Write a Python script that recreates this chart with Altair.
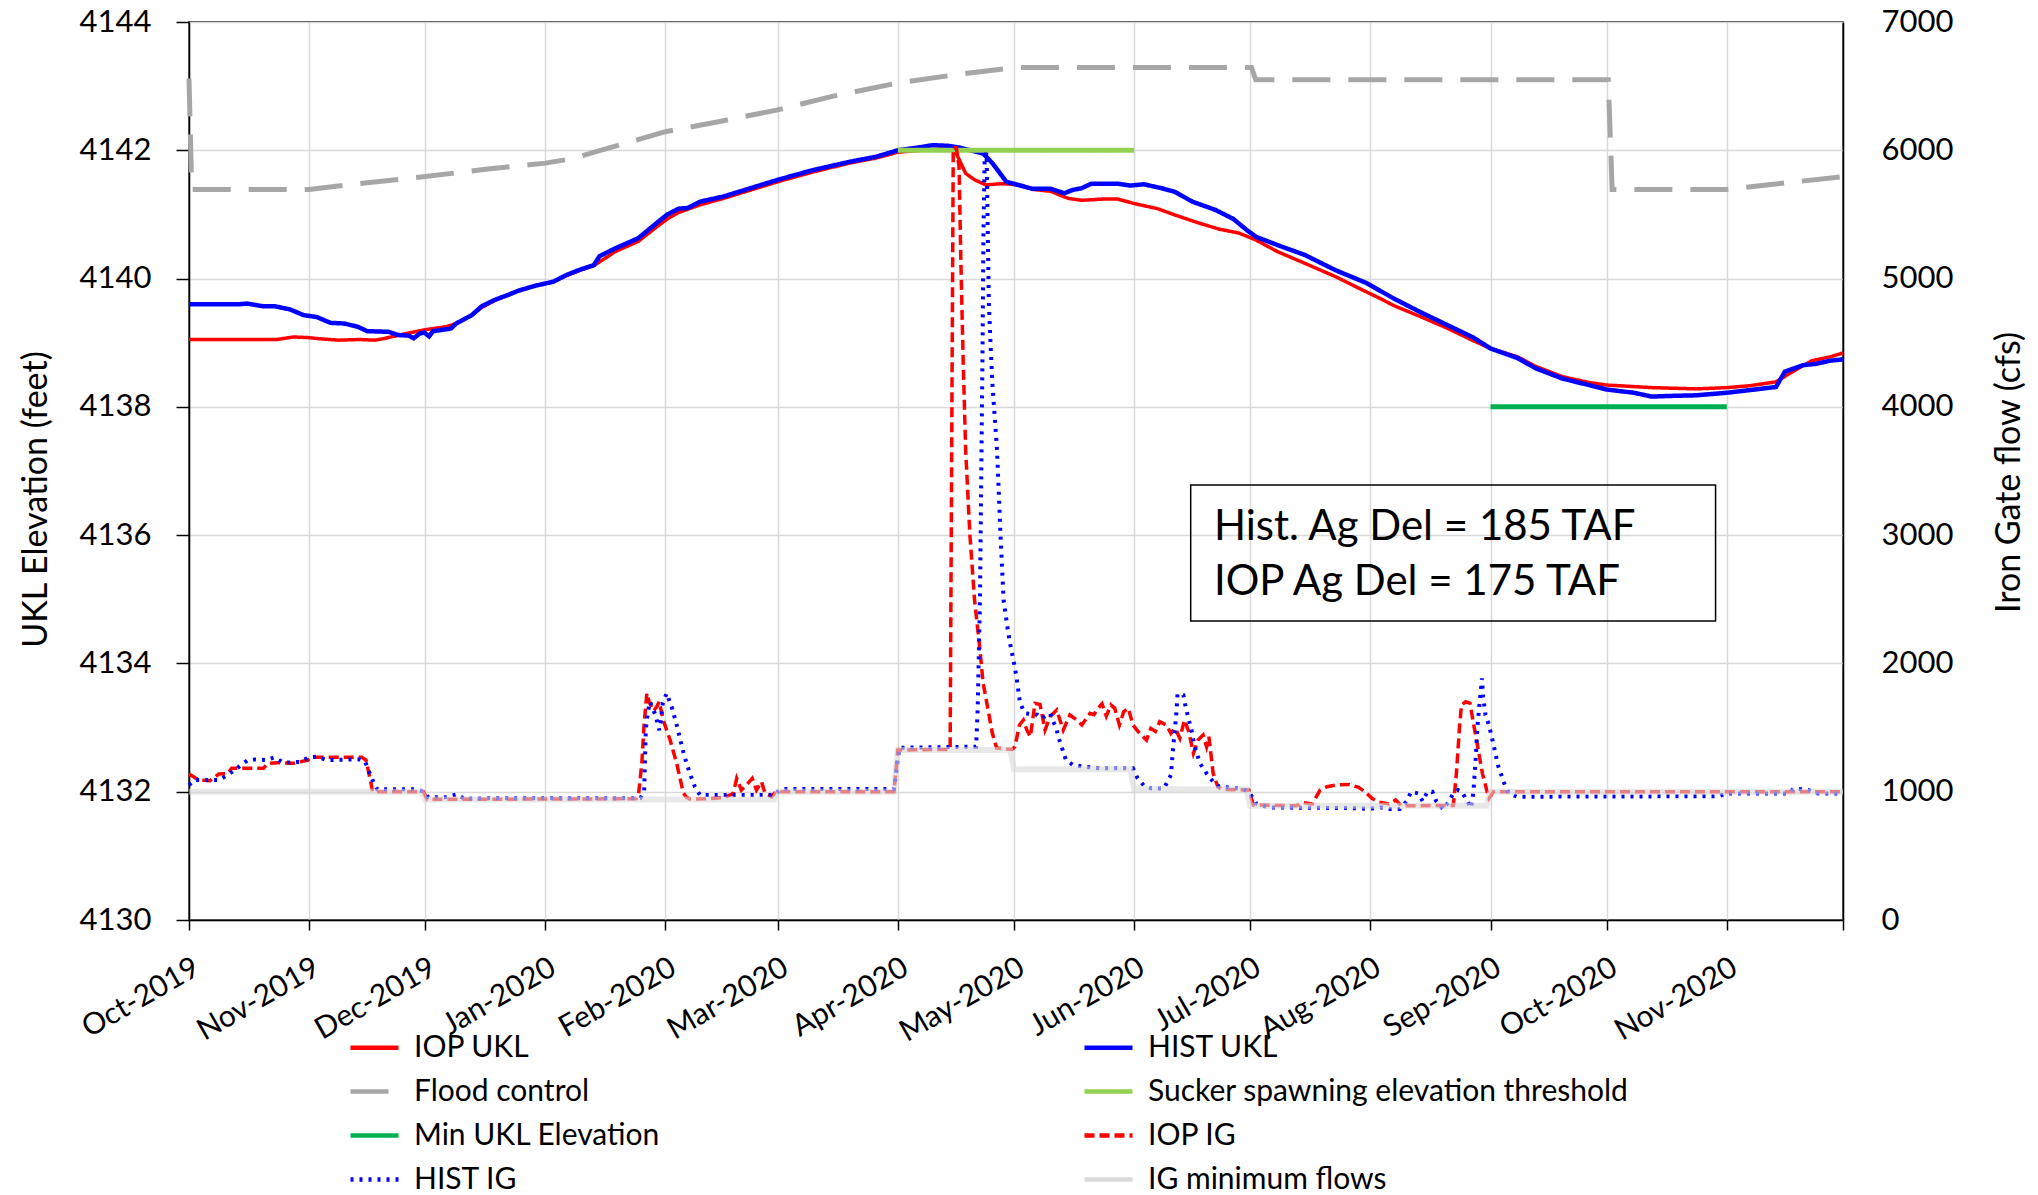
import altair as alt
import pandas as pd

# x values are days after 1 Oct 2019
START = pd.Timestamp("2019-10-01")

iop_ukl_day = [0, 22.7, 27, 30.7, 34, 38.7, 44, 48, 50, 55, 60.7, 66.4, 69, 73, 75.6, 79, 82.6, 85, 89.5, 94,
               97.6, 101, 104.5, 107, 110, 116, 120.6, 123.5, 126.4, 132, 138, 145, 152, 161, 170.5, 177.4, 183,
               189, 194, 197.5, 198.8, 200.5, 202.8, 205.7, 210, 214, 218, 222.4, 227, 230.5, 236, 239.7, 244,
               250, 254.6, 260.5, 266, 271, 275.5, 281, 288, 296, 303, 307.5, 311, 317.8, 324.7, 331.6, 336,
               343, 347.7, 354.6, 361.4, 366, 377.6, 389, 397, 403, 409.7, 414.6, 419, 423.7, 427]
iop_ukl_elev = [4139.05, 4139.05, 4139.09, 4139.08, 4139.06, 4139.04, 4139.05, 4139.04, 4139.06, 4139.13,
                4139.20, 4139.25, 4139.30, 4139.43, 4139.55, 4139.66, 4139.75, 4139.81, 4139.89, 4139.95,
                4140.05, 4140.13, 4140.20, 4140.30, 4140.42, 4140.58, 4140.80, 4140.93, 4141.03, 4141.15,
                4141.25, 4141.38, 4141.51, 4141.66, 4141.80, 4141.88, 4141.97, 4142.00, 4142.02, 4142.02,
                4141.86, 4141.64, 4141.54, 4141.46, 4141.48, 4141.46, 4141.39, 4141.36, 4141.25, 4141.22,
                4141.24, 4141.24, 4141.17, 4141.09, 4140.99, 4140.87, 4140.77, 4140.71, 4140.60, 4140.42,
                4140.24, 4140.03, 4139.82, 4139.69, 4139.58, 4139.41, 4139.23, 4139.03, 4138.91, 4138.78,
                4138.63, 4138.47, 4138.38, 4138.34, 4138.30, 4138.28, 4138.30, 4138.33, 4138.39, 4138.57,
                4138.72, 4138.78, 4138.84]

hist_ukl_day = [0, 13, 15, 19, 22, 26, 29.6, 33, 36.5, 40, 43.5, 46, 51.5, 54, 56.7, 58, 59.5, 60.7, 62, 63,
                67.6, 69, 73, 75.6, 79, 82.6, 85, 89.5, 94, 97.6, 101, 104.5, 106, 110, 116, 120.6, 123.5,
                126.4, 128.7, 132, 138, 145, 152, 161, 170.5, 177.4, 183, 189, 192, 196, 199, 205, 207.4, 211,
                214, 217.8, 222.4, 226, 228, 230.5, 233, 239.7, 243, 246.5, 251, 254.6, 259, 265, 269.6, 273,
                275.5, 282, 288, 296, 304, 311, 317.8, 324.7, 331.6, 336, 343, 347.7, 354.6, 361.4, 366, 373,
                377.6, 382, 389, 397, 402.8, 409.7, 412, 416.7, 420, 423.7, 427]
hist_ukl_elev = [4139.60, 4139.60, 4139.61, 4139.57, 4139.57, 4139.52, 4139.43, 4139.40, 4139.31, 4139.30,
                 4139.25, 4139.18, 4139.17, 4139.12, 4139.11, 4139.07, 4139.14, 4139.16, 4139.10, 4139.18,
                 4139.22, 4139.30, 4139.43, 4139.57, 4139.67, 4139.75, 4139.81, 4139.89, 4139.95, 4140.06,
                 4140.14, 4140.21, 4140.35, 4140.47, 4140.63, 4140.86, 4141.00, 4141.09, 4141.10, 4141.20,
                 4141.28, 4141.41, 4141.54, 4141.69, 4141.82, 4141.90, 4142.00, 4142.05, 4142.08, 4142.07,
                 4142.04, 4141.95, 4141.80, 4141.51, 4141.46, 4141.40, 4141.40, 4141.33, 4141.38, 4141.41,
                 4141.48, 4141.48, 4141.45, 4141.47, 4141.41, 4141.35, 4141.20, 4141.07, 4140.93, 4140.76,
                 4140.65, 4140.50, 4140.37, 4140.13, 4139.93, 4139.69, 4139.48, 4139.28, 4139.08, 4138.91,
                 4138.76, 4138.60, 4138.44, 4138.34, 4138.27, 4138.22, 4138.16, 4138.17, 4138.18, 4138.22,
                 4138.26, 4138.31, 4138.55, 4138.65, 4138.67, 4138.72, 4138.74]

flood_day = [0, 0.7, 31, 41, 61, 76, 92, 99, 106.9, 123, 137, 152, 166, 183, 197, 213, 274.3, 275.4, 366.4,
             367.4, 397, 412, 427]
flood_elev = [4143.12, 4141.39, 4141.39, 4141.46, 4141.59, 4141.70, 4141.80, 4141.87, 4142.01, 4142.29,
              4142.45, 4142.63, 4142.84, 4143.05, 4143.17, 4143.29, 4143.29, 4143.10, 4143.10, 4141.39,
              4141.39, 4141.49, 4141.59]

sucker_day = [183, 244]
sucker_elev = [4142.0, 4142.0]

min_ukl_day = [336, 397]
min_ukl_elev = [4138.0, 4138.0]

iop_ig_day = [0, 2.5, 5.4, 7.7, 10, 11, 19.2, 20.4, 23, 27, 30.7, 31.5, 44.6, 45.7, 46.9, 47.4, 60.5, 61.5,
              115.4, 116, 116.9, 117.5, 118.2, 118.8, 119.9, 120.7, 121.4, 122.4, 124.2, 125.9, 127.6, 128.3,
              129.2, 133.7, 138.3, 140.5, 141.4, 142.6, 143.9, 145.4, 146.5, 147.8, 148.7, 150.4, 151.5,
              182, 183, 196.5, 197.3, 198.1, 198.8, 199.3, 199.9, 200.5, 201.6, 202.8, 204.2, 205, 206.3,
              207.4, 208.5, 212.5, 213.2, 214.4, 215.4, 216.3, 217.2, 218.4, 219.7, 221, 222.3, 224, 225.7,
              227.4, 229.2, 230.5, 232.6, 233.6, 234.7, 235.7, 236.8, 238, 239, 240.2, 241.3, 242.5, 243.7,
              245.4, 247.2, 248.3, 249.5, 250.6, 252.3, 253.5, 254.6, 255.8, 257, 258.1, 259.3, 260.5,
              261.8, 262.7, 263.3, 264.4, 265.6, 266.5, 273.6, 274.8, 285.8, 287.5, 290, 292, 293.8, 296,
              299.6, 301.9, 303.6, 305.4, 307, 309.8, 311.5, 313, 326.4, 327.2, 328, 328.5, 329.6, 330.7,
              331.6, 332.7, 333.9, 334.8, 335.6, 336.8, 427]
iop_ig_flow = [1138, 1091, 1086, 1138, 1140, 1182, 1182, 1221, 1226, 1221, 1247, 1268, 1268, 1247, 1078, 1000,
               1000, 940, 945, 966, 1221, 1530, 1767, 1700, 1630, 1660, 1702, 1560, 1403, 1221, 992, 961,
               943, 945, 955, 985, 1104, 1013, 1052, 1104, 1013, 1078, 987, 961, 1000,
               1000, 1325, 1330, 6020, 6020, 5872, 5092, 4313, 3664, 3000, 2494, 2105, 1850, 1637,
               1455, 1340, 1330, 1351, 1520, 1559, 1481, 1429, 1689, 1680, 1481, 1585, 1637, 1481,
               1598, 1559, 1520, 1611, 1600, 1650, 1686, 1590, 1676, 1650, 1520, 1624, 1650, 1520,
               1455, 1403, 1494, 1470, 1546, 1520, 1455, 1494, 1416, 1559, 1468, 1299, 1403,
               1442, 1351, 1429, 1143, 1039, 1019, 1013, 897, 890, 915, 905, 1013, 1039, 1052,
               1057, 1034, 1000, 948, 920, 904, 935, 890, 893, 1143, 1507, 1676, 1702, 1690,
               1533, 1351, 1143, 1039, 948, 1000, 1000]

hist_ig_day = [0, 1.5, 7.7, 10, 15, 17, 20, 22, 24.5, 28.5, 31, 33, 35.5, 44, 45.5, 46.3, 47.4, 48.6, 58.4,
               60.7, 61.8, 66, 69.3, 71, 80, 90, 100, 110, 116.5, 117.2, 117.5, 117.9, 118.1, 118.5, 119,
               120.4, 121.4, 121.8, 122.3, 123.3, 124.6, 125.9, 127.8, 129.3, 130.6, 131.9, 151, 152, 152.8,
               182, 183, 183.5, 203.2, 203.6, 204.2, 204.6, 204.9, 205.1, 205.4, 205.9, 206.2, 206.5, 207,
               207.4, 208, 208.6, 209.5, 210.3, 211.3, 212, 213, 213.6, 214.5, 215.3, 216, 219, 220.1, 222.3,
               224, 224.7, 225.7, 226.4, 228.2, 232.6, 235, 243.7, 244.9, 246.6, 248.5, 251.7, 253.5, 253.8,
               254.4, 254.9, 255.2, 256, 256.7, 257.2, 257.9, 259, 259.4, 261, 262.7, 264.4, 266, 271.5,
               273.6, 275.5, 278.8, 290, 300, 305, 307.5, 310, 312.6, 314.4, 315.5, 317.3, 318.5, 319.7, 321,
               322, 323.8, 325.3, 326.4, 327.6, 328.6, 329.8, 331, 331.6, 332.2, 332.6, 333, 333.3, 333.6,
               333.8, 334.1, 334.7, 335.6, 336.8, 337.9, 338.8, 339.7, 340.7, 343, 395, 397, 413, 414.3, 416,
               418, 420.6, 427]
hist_ig_flow = [1052, 1091, 1091, 1130, 1242, 1252, 1247, 1268, 1226, 1232, 1268, 1273, 1247, 1252, 1232, 1169,
                1091, 1019, 1019, 1000, 956, 956, 980, 945, 950, 948, 950, 948, 950, 987, 1000, 1455, 1546,
                1624, 1702, 1600, 1480, 1550, 1689, 1767, 1663, 1520, 1286, 1143, 1039, 974, 974, 1000, 1021,
                1021, 1260, 1343, 1351, 1640, 2500, 3664, 4573, 5352, 5923, 5980, 5400, 4800, 4440,
                4184, 3924, 3664, 3000, 2494, 2280, 2150, 2000, 1900, 1700, 1640, 1611, 1600, 1572, 1611,
                1481, 1403, 1312, 1247, 1208, 1190, 1182, 1182, 1104, 1045, 1026, 1026, 1130, 1247,
                1455, 1611, 1762, 1762, 1754, 1676, 1585, 1455, 1377, 1221, 1143, 1078, 1039, 1026,
                1000, 908, 877, 875, 872, 866, 879, 866, 866, 926, 1000, 987, 926, 1000, 1000,
                926, 862, 926, 987, 1013, 1000, 935, 873, 1000, 1273, 1494, 1637, 1728, 1819,
                1884, 1741, 1598, 1520, 1364, 1208, 1130, 1052, 987, 961, 965, 987, 987, 1026, 1020,
                1013, 987, 987]

ig_min_day = [0, 60, 61, 151, 152, 182, 183, 212, 213, 243, 244, 273, 274, 335, 336, 427]
ig_min_flow = [1000, 1000, 940, 940, 1000, 1000, 1325, 1325, 1175, 1175, 1020, 1020, 890, 890, 1000, 1000]

box_day = [258.6, 394.1]
box_elev = [4134.66, 4136.78]
note_day = [264.6, 264.6]
note_elev = [4135.92, 4135.07]
note_text = ["Hist. Ag Del = 185 TAF", "IOP Ag Del = 175 TAF"]

style = {
    "IOP UKL": ("#FF0000", [1, 0], 3.5),
    "HIST UKL": ("#0000FF", [1, 0], 4.5),
    "Flood control": ("#A6A6A6", [38, 18], 5),
    "Sucker spawning elevation threshold": ("#92D050", [1, 0], 5),
    "Min UKL Elevation": ("#00B050", [1, 0], 5),
    "IOP IG": ("#FF0000", [10, 5], 3.5),
    "HIST IG": ("#0000FF", [3, 6], 4),
    "IG minimum flows": ("#D9D9D9", [1, 0], 6),
}
# legend order (the legend fills its two columns top to bottom)
legend_order = ["IOP UKL", "Flood control", "Min UKL Elevation", "HIST IG",
                "HIST UKL", "Sucker spawning elevation threshold", "IOP IG", "IG minimum flows"]


def to_dates(days):
    return [(START + pd.to_timedelta(d, unit="D")).strftime("%Y-%m-%dT%H:%M:%S") for d in days]


def frame(name, days, vals, col):
    return pd.DataFrame({"date": to_dates(days), col: vals, "series": name})


FONT = "Lato"

month_vals = [alt.DateTime(year=2019, month=m, date=1) for m in (10, 11, 12)] + \
             [alt.DateTime(year=2020, month=m, date=1) for m in range(1, 13)]

x_scale = alt.Scale(domain=[alt.DateTime(year=2019, month=10, date=1),
                            alt.DateTime(year=2020, month=12, date=1)])
x_axis = alt.Axis(values=month_vals, format="%b-%Y", labelAngle=-30, labelAlign="right",
                  labelBaseline="top", labelPadding=22, tickSize=10, grid=True, labelFontSize=30,
                  labelExpr="datum.label == 'Dec-2020' ? '' : datum.label")

left_scale = alt.Scale(domain=[4130, 4144], nice=False, zero=False)
left_axis = alt.Axis(orient="left", values=list(range(4130, 4145, 2)), format="d",
                     title="UKL Elevation (feet)", tickSize=13, labelPadding=25, grid=True,
                     titleAngle=270, titleAlign="center", titleBaseline="middle", titleX=-153, titleY=477)
right_scale = alt.Scale(domain=[0, 7000], nice=False)
right_axis = alt.Axis(orient="right", values=list(range(0, 7001, 1000)), format="d",
                      title="Iron Gate flow (cfs)", ticks=False, tickSize=0, labelPadding=38, grid=False,
                      titleAngle=270, titleAlign="center", titleBaseline="middle", titleX=166, titleY=450)

legend = alt.Legend(title=None, orient="none", legendX=159, legendY=999, columns=2,
                    symbolType="stroke", symbolSize=2304, symbolStrokeWidth=4.5,
                    labelFont=FONT, labelFontSize=30, labelColor="black", labelOffset=13,
                    rowPadding=2, columnPadding=414, padding=0, labelLimit=1000)

color_enc = alt.Color("series:N", scale=alt.Scale(domain=legend_order,
                                                  range=[style[s][0] for s in legend_order]), legend=legend)
dash_enc = alt.StrokeDash("series:N", scale=alt.Scale(domain=legend_order,
                                                      range=[style[s][1] for s in legend_order]), legend=legend)


def line_layer(df, col, scale, axis, name, opacity=1.0):
    return alt.Chart(df).mark_line(strokeWidth=style[name][2], opacity=opacity).encode(
        x=alt.X("date:T", scale=x_scale, axis=x_axis, title=None),
        y=alt.Y(f"{col}:Q", scale=scale, axis=axis),
        color=color_enc,
        strokeDash=dash_enc,
    )


left_data = {
    "IOP UKL": (iop_ukl_day, iop_ukl_elev),
    "HIST UKL": (hist_ukl_day, hist_ukl_elev),
    "Flood control": (flood_day, flood_elev),
    "Sucker spawning elevation threshold": (sucker_day, sucker_elev),
    "Min UKL Elevation": (min_ukl_day, min_ukl_elev),
}
right_data = {
    "IOP IG": (iop_ig_day, iop_ig_flow),
    "HIST IG": (hist_ig_day, hist_ig_flow),
    "IG minimum flows": (ig_min_day, ig_min_flow),
}

left_layers = [line_layer(frame(n, d, v, "elev"), "elev", left_scale, left_axis, n)
               for n, (d, v) in left_data.items()]

box_dates = to_dates(box_day)
box_df = pd.DataFrame({"x1": [box_dates[0]], "x2": [box_dates[1]],
                       "y1": [box_elev[0]], "y2": [box_elev[1]]})
box = alt.Chart(box_df).mark_rect(fill="transparent", stroke="black", strokeWidth=1.5).encode(
    x=alt.X("x1:T", scale=x_scale, axis=x_axis, title=None), x2="x2:T",
    y=alt.Y("y1:Q", scale=left_scale, axis=left_axis), y2="y2:Q")

note_df = pd.DataFrame({"date": to_dates(note_day), "elev": note_elev, "label": note_text})
note = alt.Chart(note_df).mark_text(align="left", baseline="alphabetic", font=FONT, fontSize=42,
                                    color="black").encode(
    x=alt.X("date:T", scale=x_scale, axis=x_axis, title=None),
    y=alt.Y("elev:Q", scale=left_scale, axis=left_axis),
    text="label:N")

right_layers = [line_layer(frame(n, d, v, "flow"), "flow", right_scale, right_axis, n,
                           0.6 if n == "IG minimum flows" else 1.0)
                for n, (d, v) in right_data.items()]

left = alt.layer(*left_layers, box, note)
right = alt.layer(*right_layers)

chart = alt.layer(left, right).resolve_scale(y="independent").properties(
    width=1654, height=898,
    autosize=alt.AutoSizeParams(type="none"),
    padding={"left": 189, "top": 22, "right": 195, "bottom": 275},
).configure_view(stroke="black", strokeWidth=1.5).configure_axis(
    labelFont=FONT, labelFontSize=31, labelColor="black",
    titleFont=FONT, titleFontSize=34, titleColor="black", titleFontWeight="normal",
    domainColor="black", domainWidth=1.5, tickColor="black", tickWidth=1.5,
    gridColor="#D9D9D9", gridWidth=1.5, labelFlush=False, labelOverlap=False,
)

chart.save("out.html", embed_options={"renderer": "svg", "actions": False})
